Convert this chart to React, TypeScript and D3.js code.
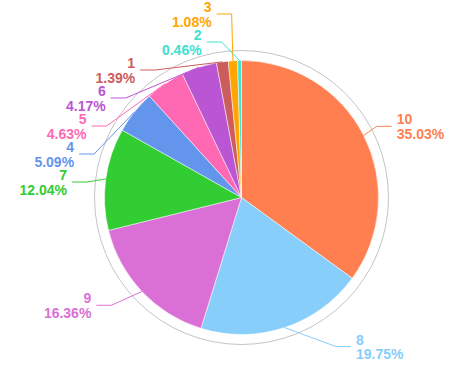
import React from 'react';
import * as d3 from 'd3';

const names = ['10', '8', '9', '7', '4', '5', '6', '1', '3', '2'];
const values = [35.03, 19.75, 16.36, 12.04, 5.09, 4.63, 4.17, 1.39, 1.08, 0.46];
const colors = ['#ff7f50', '#87cefa', '#da70d6', '#32cd32', '#6495ed', '#ff69b4', '#ba55d3', '#cd5c5c', '#ffa500', '#40e0d0'];

const W = 455;
const H = 366;
const cx = 241.5;
const cy = 197.5;
const r = 137;
const ringR = 147;
const lineLen = 20;
const labelH = 28;

type Lab = {
  i: number;
  sx: number;
  sy: number;
  natTop: number;
  top: number;
  side: number;
  natEdge: number;
  dx: number;
};

function resolve(list: Lab[]) {
  list.sort((a, b) => (Math.abs(a.natTop - b.natTop) < 1 ? 0 : a.natTop - b.natTop));
  let groups: { items: Lab[]; top: number }[] = list.map((l) => ({ items: [l], top: l.natTop }));
  const place = (g: { items: Lab[]; top: number }) => {
    const n = g.items.length;
    let t = d3.mean(g.items, (l, k) => l.natTop - k * labelH) as number;
    t = Math.max(0, Math.min(H - n * labelH, t));
    g.top = t;
  };
  groups.forEach(place);
  let changed = true;
  while (changed) {
    changed = false;
    for (let i = 1; i < groups.length; i++) {
      const p = groups[i - 1];
      if (groups[i].top < p.top + p.items.length * labelH) {
        const m = { items: [...p.items, ...groups[i].items], top: 0 };
        place(m);
        groups.splice(i - 1, 2, m);
        changed = true;
        break;
      }
    }
  }
  groups.forEach((g) => g.items.forEach((l, k) => (l.top = g.top + k * labelH)));

  const R = r + lineLen + 20;
  const changeX = (arr: Lab[], isDown: boolean) => {
    let last = isDown ? Infinity : 0;
    arr.forEach((l) => {
      const dy = Math.abs(l.top - cy);
      let dx = dy < r + lineLen ? Math.sqrt(R * R - dy * dy) : l.natEdge;
      if (isDown && dx >= last) dx = last - 10;
      if (!isDown && dx <= last) dx = last + 10;
      l.dx = dx;
      last = dx;
    });
  };
  changeX(list.filter((l) => l.top >= cy), true);
  changeX(list.filter((l) => l.top < cy), false);
}

export default function App() {
  const total = d3.sum(values);
  const arcs = d3.pie<number>().sort(null).value((d) => d)(values);
  const arcGen = d3.arc<d3.PieArcDatum<number>>().innerRadius(0).outerRadius(r);

  const labs: Lab[] = arcs.map((a, i) => {
    const mid = (a.startAngle + a.endAngle) / 2;
    const px = cx + (r + lineLen) * Math.sin(mid);
    const py = cy - (r + lineLen) * Math.cos(mid);
    return {
      i,
      sx: cx + r * Math.sin(mid),
      sy: cy - r * Math.cos(mid),
      natTop: py - labelH / 2,
      top: 0,
      side: px < cx ? -1 : 1,
      natEdge: Math.abs(px - cx) + 20,
      dx: 0,
    };
  });
  resolve(labs.filter((l) => l.side < 0));
  resolve(labs.filter((l) => l.side > 0));

  return (
    <svg width={W} height={H} style={{ position: 'absolute', left: 0, top: 0, background: '#fff' }}>
      <g transform={`translate(${cx},${cy})`}>
        {arcs.map((a, i) => (
          <path key={i} d={arcGen(a) as string} fill={colors[i]} stroke="#fff" strokeWidth={0.5} />
        ))}
      </g>
      <circle cx={cx} cy={cy} r={ringR} fill="none" stroke="#c4c4c4" strokeWidth={1} />
      {labs.map((l) => {
        const yc = l.top + labelH / 2;
        const pts: [number, number][] = [
          [l.sx, l.sy],
          [cx + l.side * (l.dx - 20), yc],
          [cx + l.side * (l.dx - 5), yc],
        ];
        const tx = cx + l.side * l.dx;
        const pct = ((values[l.i] / total) * 100).toFixed(2) + '%';
        return (
          <g key={l.i}>
            <polyline points={pts.map((p) => p.join(',')).join(' ')} fill="none" stroke={colors[l.i]} strokeWidth={1} />
            <text
              x={tx}
              y={yc}
              fill={colors[l.i]}
              fontFamily="Arial, 'Liberation Sans', sans-serif"
              fontWeight="bold"
              fontSize={14}
              textAnchor={l.side < 0 ? 'end' : 'start'}
            >
              <tspan x={tx} y={yc - 7} dominantBaseline="central">{names[l.i]}</tspan>
              <tspan x={tx} y={yc + 7.5} dominantBaseline="central">{pct}</tspan>
            </text>
          </g>
        );
      })}
    </svg>
  );
}
